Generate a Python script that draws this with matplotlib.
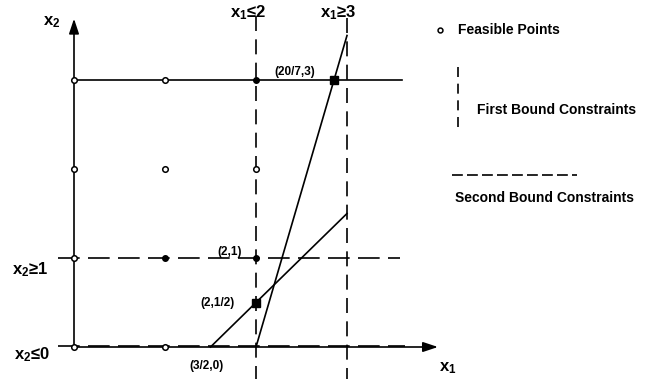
import matplotlib.pyplot as plt

plt.rcParams['font.family'] = ['Liberation Sans', 'DejaVu Sans']
plt.rcParams['font.weight'] = 'bold'
plt.rcParams['mathtext.default'] = 'regular'

# integer points drawn in the picture
open_x = [0, 1, 0, 0, 1, 2, 0, 1]
open_y = [0, 0, 1, 2, 2, 2, 3, 3]
dot_x = [1, 2, 2]
dot_y = [1, 1, 3]

# corner points of the relaxations
corner_x = [20 / 7, 2]
corner_y = [3, 0.5]

# constraint lines (endpoints)
steep_x = [2, 3]
steep_y = [0, 3.5]
flat_x = [1.5, 3]
flat_y = [0, 1.5]

point_labels = ['(20/7,3)', '(2,1)', '(2,1/2)', '(3/2,0)']
label_x = [2.43, 1.71, 1.58, 1.46]
label_y = [3.09, 1.07, 0.49, -0.21]

fig = plt.figure(figsize=(6.51, 3.79), dpi=100)
ax = fig.add_axes([0, 0, 1, 1])
ax.set_xlim(-74 / 91, (651 - 74) / 91)
ax.set_ylim(-32 / 89, 347 / 89)
ax.set_axis_off()

lw = 1.2
dash = (0, (9, 5))

# axes with arrows
ax.annotate('', xy=(0, 3.72), xytext=(0, 0),
            arrowprops=dict(arrowstyle='-|>,head_length=0.9,head_width=0.3', color='black', lw=lw))
ax.annotate('', xy=(4.03, 0), xytext=(0, 0),
            arrowprops=dict(arrowstyle='-|>,head_length=0.9,head_width=0.3', color='black', lw=lw))

# first bound constraints (vertical dashed)
ax.plot([2, 2], [3.72, -0.5], color='black', lw=lw, linestyle=dash)
ax.plot([3, 3], [3.70, -0.5], color='black', lw=lw, linestyle=dash)

# second bound constraints (horizontal dashed)
ax.plot([-0.18, 3.58], [1, 1], color='black', lw=lw, linestyle=(0, (13, 5)))
ax.plot([-0.18, 3.64], [0.01, 0.01], color='black', lw=lw, linestyle=(0, (13, 5)))

# x2 = 3 solid line
ax.plot([0, 3.6], [3, 3], color='black', lw=lw)

# constraint lines
ax.plot(steep_x, steep_y, color='black', lw=lw)
ax.plot(flat_x, flat_y, color='black', lw=lw)

# points
ax.plot(open_x, open_y, 'o', ms=4, mfc='white', mec='black', mew=1.1, zorder=5)
ax.plot(dot_x, dot_y, 'o', ms=4, color='black', zorder=5)
ax.plot(corner_x, corner_y, 's', ms=6, color='black', zorder=5)

fs = 10
for t, x, y in zip(point_labels, label_x, label_y):
    ax.text(x, y, t, fontsize=8.5, ha='center', va='center')

ax.text(-0.24, 3.65, r'x$_2$', fontsize=12, ha='center', va='center')
ax.text(1.91, 3.76, r'x$_1$≤2', fontsize=12, ha='center', va='center')
ax.text(2.90, 3.76, r'x$_1$≥3', fontsize=12, ha='center', va='center')
ax.text(-0.48, 0.87, r'x$_2$≥1', fontsize=12, ha='center', va='center')
ax.text(-0.46, -0.09, r'x$_2$≤0', fontsize=12, ha='center', va='center')
ax.text(4.11, -0.24, r'x$_1$', fontsize=12, ha='center', va='center')

# legend drawn by hand
ax.plot([4.02], [3.56], 'o', ms=3.5, mfc='white', mec='black', mew=1.1)
ax.text(4.22, 3.56, 'Feasible Points', fontsize=fs, ha='left', va='center')
ax.plot([4.22, 4.22], [3.15, 2.46], color='black', lw=lw, linestyle=(0, (6, 4)))
ax.text(4.43, 2.66, 'First Bound Constraints', fontsize=fs, ha='left', va='center')
ax.plot([4.15, 5.53], [1.93, 1.93], color='black', lw=lw, linestyle=(0, (6.5, 2.5)))
ax.text(4.19, 1.67, 'Second Bound Constraints', fontsize=fs, ha='left', va='center')

fig.savefig('out.png', dpi=100)
